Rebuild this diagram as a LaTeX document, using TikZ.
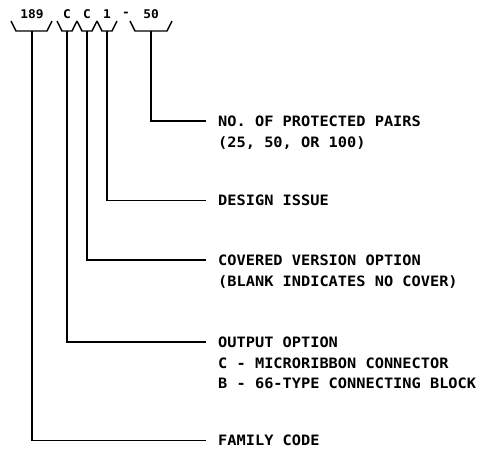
\documentclass[tikz,border=0pt]{standalone}
\usepackage{fontspec}
\newfontfamily\codefont[FakeStretch=1.07]{DejaVu Sans Mono}
\usetikzlibrary{positioning}

\tikzset{
	part/.style={font=\codefont\bfseries\fontsize{12}{12}\selectfont, inner sep=0pt},
	desc/.style={font=\codefont\bfseries\fontsize{14.3}{16}\selectfont, anchor=west, inner xsep=12pt, inner ysep=0pt, text height=10pt, text depth=0pt},
	note/.style={font=\codefont\bfseries\fontsize{14.3}{20.5}\selectfont, inner xsep=12pt, inner ysep=0pt, align=left},
	lead/.style={line width=1.4pt, line join=miter},
}
% brace under one part of the code
\newcommand{\codebrace}[2]{\draw[lead] (#1,21) -- (#1+5,31) -- (#2-5,31) -- (#2,21);}

\begin{document}
\begin{tikzpicture}[x=1pt, y=-1pt]
	\useasboundingbox (0,0) rectangle (490,448);
	% the code
	\node[part] (fam) at (32,14) {189};
	\node[part] (out) at (67,14) {C};
	\node[part] (cov) at (87,14) {C};
	\node[part] (iss) at (107,14) {1};
	\node[part] (dash) at (126,14) {-};
	\node[part] (prs) at (151,14) {50};
	\codebrace{11}{52}
	\codebrace{57}{77}
	\codebrace{77}{97}
	\codebrace{97}{117}
	\codebrace{130}{172}
	\coordinate (famb) at (32,31);
	\coordinate (outb) at (67,31);
	\coordinate (covb) at (87,31);
	\coordinate (issb) at (107,31);
	\coordinate (prsb) at (151,31);
	% descriptions
	\node[desc] (pairs) at (206,121) {NO. OF PROTECTED PAIRS};
	\node[note, below right=10pt and 0pt of pairs.south west] (pairsnote) {(25, 50, OR 100)};
	\node[desc] (issue) at (206,200.5) {DESIGN ISSUE};
	\node[desc] (cover) at (206,260) {COVERED VERSION OPTION};
	\node[note, below right=10pt and 0pt of cover.south west] (covernote) {(BLANK INDICATES NO COVER)};
	\node[desc] (output) at (206,342) {OUTPUT OPTION};
	\node[note, below right=10pt and 0pt of output.south west] (outputnote) {C - MICRORIBBON CONNECTOR\\B - 66-TYPE CONNECTING BLOCK};
	\node[desc] (family) at (206,440.5) {FAMILY CODE};
	% leaders
	\draw[lead] (prsb) |- (pairs.west);
	\draw[lead] (issb) |- (issue.west);
	\draw[lead] (covb) |- (cover.west);
	\draw[lead] (outb) |- (output.west);
	\draw[lead] (famb) |- (family.west);
\end{tikzpicture}
\end{document}
